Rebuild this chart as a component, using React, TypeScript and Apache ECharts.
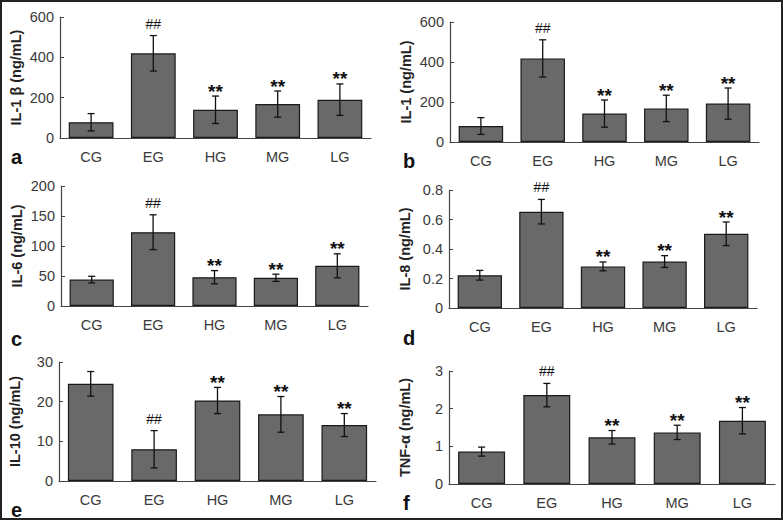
import React, { useEffect, useRef } from "react";
import * as echarts from "echarts";

const categories = ["CG", "EG", "HG", "MG", "LG"];
const marks = ["", "##", "**", "**", "**"];

const il1bMean = [78, 420, 140, 168, 190];
const il1bErr = [43, 88, 68, 65, 78];
const il1Mean = [80, 418, 142, 168, 192];
const il1Err = [42, 93, 68, 66, 78];
const il6Mean = [44, 123, 48, 47, 67];
const il6Err = [5.5, 29, 11, 6, 20];
const il8Mean = [0.222, 0.653, 0.282, 0.315, 0.503];
const il8Err = [0.033, 0.083, 0.03, 0.04, 0.08];
const il10Mean = [24.5, 8, 20.3, 16.8, 14.1];
const il10Err = [3.1, 4.7, 3.3, 4.5, 2.9];
const tnfMean = [0.86, 2.36, 1.24, 1.37, 1.68];
const tnfErr = [0.12, 0.31, 0.18, 0.19, 0.35];

const panelNames = ["IL-1 β (ng/mL)", "IL-1 (ng/mL)", "IL-6 (ng/mL)", "IL-8 (ng/mL)", "IL-10 (ng/mL)", "TNF-α (ng/mL)"];
const panelLetters = ["a", "b", "c", "d", "e", "f"];
const yMax = [600, 600, 200, 0.8, 30, 3];
const yInterval = [200, 200, 50, 0.2, 10, 1];

const panels = [
  { mean: il1bMean, err: il1bErr },
  { mean: il1Mean, err: il1Err },
  { mean: il6Mean, err: il6Err },
  { mean: il8Mean, err: il8Err },
  { mean: il10Mean, err: il10Err },
  { mean: tnfMean, err: tnfErr },
];

const grids = [
  { left: 60, top: 17, width: 311, height: 121 },
  { left: 450, top: 22, width: 309, height: 120 },
  { left: 61, top: 186, width: 307, height: 120 },
  { left: 449, top: 190, width: 308, height: 118 },
  { left: 59, top: 362, width: 317, height: 119 },
  { left: 449, top: 371, width: 326, height: 113 },
];
const letterPos = [
  [11, 157],
  [403, 161],
  [11, 339],
  [403, 338],
  [11, 510],
  [403, 503],
];

const FONT = "'Liberation Sans', Arial, sans-serif";

export default function App() {
  const ref = useRef<HTMLDivElement>(null);
  useEffect(() => {
    if (!ref.current) return;
    const chart = echarts.init(ref.current, null, { renderer: "svg" });
    const xAxis: any[] = [];
    const yAxis: any[] = [];
    const series: any[] = [];
    panels.forEach((p, i) => {
      xAxis.push({
        type: "category",
        gridIndex: i,
        data: categories,
        axisLine: { lineStyle: { color: "#444", width: 1.2 } },
        axisTick: { inside: true, length: 5, alignWithLabel: false, lineStyle: { color: "#444" } },
        axisLabel: { color: "#3a3a3a", fontSize: 14.5, fontFamily: FONT, margin: 11 },
      });
      yAxis.push({
        type: "value",
        gridIndex: i,
        min: 0,
        max: yMax[i],
        interval: yInterval[i],
        name: panelNames[i],
        nameLocation: "middle",
        nameGap: 37,
        nameTextStyle: { color: "#222", fontSize: 14.5, fontWeight: "bold", fontFamily: FONT },
        axisLine: { show: true, lineStyle: { color: "#444", width: 1.2 } },
        axisTick: { show: true, inside: true, length: 4, lineStyle: { color: "#444" } },
        axisLabel: { color: "#3a3a3a", fontSize: 14.5, fontFamily: FONT, margin: 6 },
        splitLine: { show: false },
      });
      series.push({
        type: "bar",
        xAxisIndex: i,
        yAxisIndex: i,
        data: p.mean,
        barWidth: "72%",
        z: 2,
        itemStyle: { color: "#696969", borderColor: "#1a1a1a", borderWidth: 1.2 },
      });
      series.push({
        type: "custom",
        xAxisIndex: i,
        yAxisIndex: i,
        z: 5,
        data: p.mean.map((m, k) => [k, m, p.err[k], marks[k]]),
        encode: { x: 0, y: 1 },
        renderItem: (params: any, api: any) => {
          const k = api.value(0);
          const m = api.value(1);
          const e = api.value(2);
          const mark = marks[k];
          const top = api.coord([k, m + e]);
          const bot = api.coord([k, m - e]);
          const x = top[0];
          const cw = 3.5;
          const st = { stroke: "#111", lineWidth: 1.3 };
          const children: any[] = [
            { type: "line", shape: { x1: x, y1: top[1], x2: x, y2: bot[1] }, style: st },
            { type: "line", shape: { x1: x - cw, y1: top[1], x2: x + cw, y2: top[1] }, style: st },
            { type: "line", shape: { x1: x - cw, y1: bot[1], x2: x + cw, y2: bot[1] }, style: st },
          ];
          if (mark) {
            const isStar = mark === "**";
            children.push({
              type: "text",
              x: x,
              y: top[1] - (isStar ? 5 : 12),
              style: {
                text: mark,
                fill: "#111",
                fontSize: isStar ? 19 : 14,
                fontWeight: isStar ? "bold" : "normal",
                fontFamily: FONT,
                align: "center",
                verticalAlign: "middle",
              },
            });
          }
          return { type: "group", children };
        },
      });
    });
    const graphic: any[] = panelLetters.map((l, i) => ({
      type: "text",
      x: letterPos[i][0],
      y: letterPos[i][1],
      style: {
        text: l,
        fill: "#111",
        fontSize: 20,
        fontWeight: "bold",
        fontFamily: FONT,
        verticalAlign: "middle",
      },
    }));
    graphic.push({
      type: "rect",
      shape: { x: 1, y: 1, width: 781, height: 518 },
      style: { fill: "none", stroke: "#222", lineWidth: 2 },
    });
    chart.setOption({
      animation: false,
      backgroundColor: "#fff",
      grid: grids.map((g) => ({ ...g, containLabel: false })),
      xAxis,
      yAxis,
      series,
      graphic,
    });
    return () => chart.dispose();
  }, []);
  return <div ref={ref} style={{ position: "fixed", left: 0, top: 0, width: 783, height: 520 }} />;
}
